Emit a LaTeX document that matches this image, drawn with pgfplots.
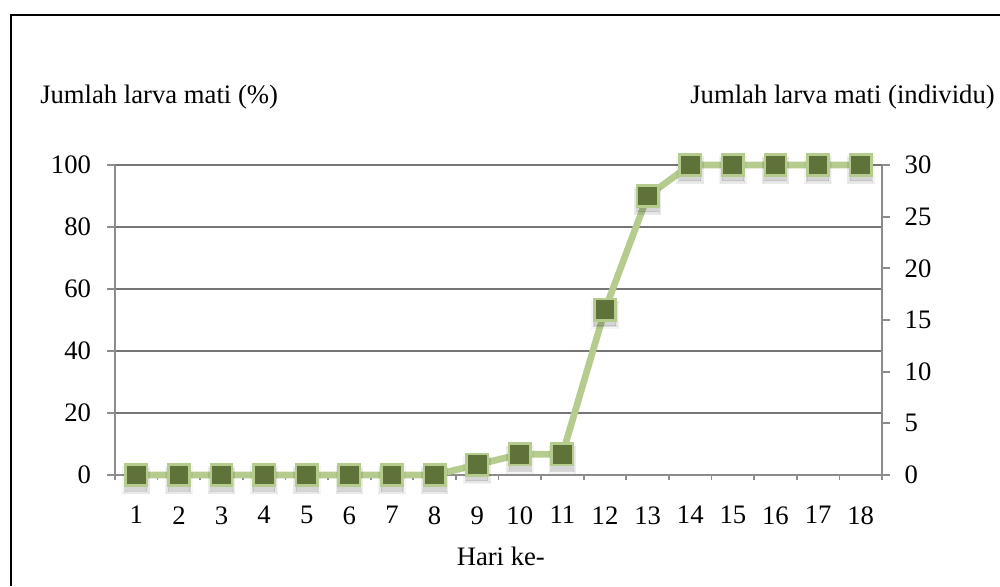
\documentclass[border=0pt]{standalone}
\usepackage{fontspec}
\setmainfont{Liberation Serif}
\usepackage{pgfplots}
\pgfplotsset{compat=1.18}

\definecolor{axisgray}{RGB}{140,140,140}
\definecolor{gridgray}{RGB}{118,118,118}
\definecolor{linegreen}{RGB}{181,204,142}
\definecolor{markolive}{RGB}{95,114,58}

% dead larvae per day (individuals, out of 30)
\pgfplotstableread{
hari individu
1  0
2  0
3  0
4  0
5  0
6  0
7  0
8  0
9  1
10 2
11 2
12 16
13 27
14 30
15 30
16 30
17 30
18 30
}\larvatable

\newcommand{\lbl}{\fontsize{20}{24}\selectfont}

\begin{document}
\begin{tikzpicture}
\useasboundingbox (0,0) rectangle (750pt,439.5pt);

% outer frame
\draw[line width=1.5pt] (8.25pt,0) -- (8.25pt,428.25pt) -- (750pt,428.25pt);

\pgfplotsset{
  common/.style={
    scale only axis,
    width=575.25pt, height=232.5pt,
    at={(86.25pt,83.25pt)}, anchor=south west,
    xmin=0.5, xmax=18.5,
    tick align=outside,
    major tick length=6pt,
    axis line style={draw=axisgray, line width=1.3pt},
    tick style={draw=axisgray, line width=1.3pt},
    tick label style={font=\lbl},
    /pgf/number format/assume math mode=true,
  },
  shadowlayer/.style n args={2}{draw=none, forget plot, mark=square*, mark size=#1,
    mark options={fill=black, draw=black, line width=0pt, opacity=#2, yshift=-4pt}},
}

% left axis: percentage scale with grid
\begin{axis}[
  common,
  ymin=0, ymax=100,
  ytick={0,20,...,100},
  ymajorgrids,
  grid style={draw=gridgray, line width=1pt},
  axis x line*=bottom, axis y line*=left,
  xtick={1,...,18},
  minor xtick={0.5,1.5,...,18.5},
  minor tick length=4pt,
  major x tick style={draw=none},
  minor x tick style={draw=axisgray, line width=1.3pt},
  xticklabel style={yshift=-14pt},
  yticklabel style={xshift=-8.5pt},
]
\end{axis}

% right axis: individuals, carries the series
\begin{axis}[
  common,
  ymin=0, ymax=30,
  ytick={0,5,...,30},
  axis y line*=right,
  hide x axis,
  yticklabel style={xshift=7.5pt},
  clip=false,
]
% soft shadow under the markers, built from a few translucent layers
\addplot[shadowlayer={10pt}{0.04}] table[x=hari, y=individu] {\larvatable};
\addplot[shadowlayer={9pt}{0.06}] table[x=hari, y=individu] {\larvatable};
\addplot[shadowlayer={8pt}{0.08}] table[x=hari, y=individu] {\larvatable};
\addplot[linegreen, line width=5pt, mark=square*, mark size=8pt,
  mark options={fill=markolive, draw=linegreen, line width=1.9pt}]
  table[x=hari, y=individu] {\larvatable};
\end{axis}

\node[anchor=base west, font=\lbl, inner sep=0] at (30pt,361.5pt) {Jumlah larva mati (\%)};
\node[anchor=base east, font=\lbl, inner sep=0] at (746.25pt,361.5pt) {Jumlah larva mati (individu)};
\node[anchor=base, font=\lbl, inner sep=0] at (375.6pt,15.75pt) {Hari ke-};
\end{tikzpicture}
\end{document}
